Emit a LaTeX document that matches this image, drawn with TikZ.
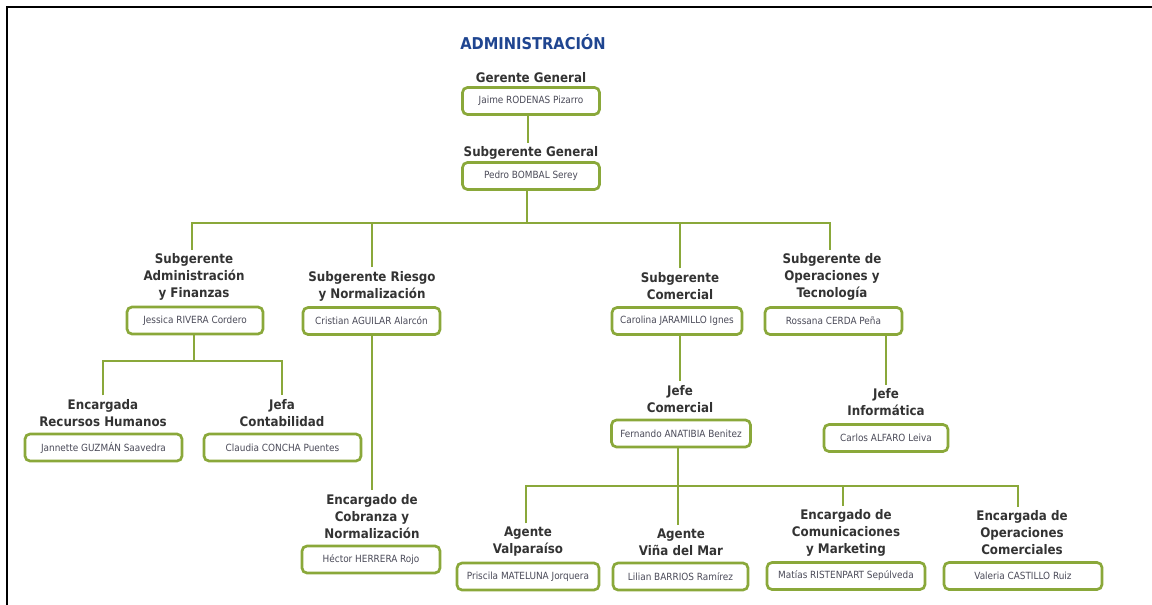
\documentclass[tikz,border=0pt]{standalone}
\usepackage{fontspec}
\setmainfont{DejaVu Sans Condensed}
\definecolor{grn}{HTML}{8AA83A}
\definecolor{hdc}{HTML}{333333}
\definecolor{nmc}{HTML}{4A4A58}
\definecolor{ttl}{HTML}{1F4590}
\begin{document}
\begin{tikzpicture}[x=1pt,y=-1pt,
  hd/.style={font=\fontsize{13.2}{17}\selectfont\bfseries, text=hdc, align=center, inner sep=0pt, outer ysep=4pt},
  nm/.style={draw=grn, line width=2.7pt, rounded corners=5pt, font=\fontsize{9.9}{11}\selectfont, text=nmc, minimum height=27pt, inner sep=0pt},
  conn/.style={draw=grn, line width=1.8pt}]
\useasboundingbox (0,0) rectangle (1152,605);
\draw[line width=2.5pt] (7,605) -- (7,7) -- (1152,7);

\node[font=\fontsize{16.3}{19}\selectfont\bfseries, text=ttl] (title) at (533,42) {ADMINISTRACIÓN};

\node[hd] (ggh) at (531,78) {Gerente General};
\node[nm, minimum width=137pt] (gg) at (531,101) {Jaime RODENAS Pizarro};
\node[hd] (sgh) at (531,153) {Subgerente General};
\node[nm, minimum width=137pt] (sg) at (531,176) {Pedro BOMBAL Serey};

\node[hd] (safh) at (194,277) {Subgerente\\Administración\\y Finanzas};
\node[nm, minimum width=136pt] (saf) at (195,320.5) {Jessica RIVERA Cordero};
\node[hd] (srnh) at (372,286) {Subgerente Riesgo\\y Normalización};
\node[nm, minimum width=137pt] (srn) at (371.5,321) {Cristian AGUILAR Alarcón};
\node[hd] (sch) at (680,286) {Subgerente\\Comercial};
\node[nm, minimum width=130pt] (sc) at (677,321) {Carolina JARAMILLO Ignes};
\node[hd] (soth) at (832,277) {Subgerente de\\Operaciones y\\Tecnología};
\node[nm, minimum width=137pt] (sot) at (833.5,321) {Rossana CERDA Peña};

\node[hd] (erhh) at (103,413) {Encargada\\Recursos Humanos};
\node[nm, minimum width=157pt] (erh) at (103.5,447.5) {Jannette GUZMÁN Saavedra};
\node[hd] (jcoh) at (282,413) {Jefa\\Contabilidad};
\node[nm, minimum width=157pt] (jco) at (282.5,447.5) {Claudia CONCHA Puentes};

\node[hd] (jch) at (680,399) {Jefe\\Comercial};
\node[nm, minimum width=139pt] (jc) at (681,433.5) {Fernando ANATIBIA Benitez};
\node[hd] (jih) at (886,402.5) {Jefe\\Informática};
\node[nm, minimum width=124pt] (ji) at (886,438) {Carlos ALFARO Leiva};

\node[hd] (ecnh) at (372,516.5) {Encargado de\\Cobranza y\\Normalización};
\node[nm, minimum width=138pt] (ecn) at (371,559.5) {Héctor HERRERA Rojo};

\node[hd] (avh) at (528,542) {Agente\\Valparaíso};
\node[nm, minimum width=142pt] (av) at (528,576.5) {Priscila MATELUNA Jorquera};
\node[hd] (avmh) at (681,542) {Agente\\Viña del Mar};
\node[nm, minimum width=135pt] (avm) at (680.5,576.5) {Lilian BARRIOS Ramírez};
\node[hd] (ecmh) at (846,533) {Encargado de\\Comunicaciones\\y Marketing};
\node[nm, minimum width=158pt] (ecm) at (846,576) {Matías RISTENPART Sepúlveda};
\node[hd] (eoch) at (1022,533) {Encargada de\\Operaciones\\Comerciales};
\node[nm, minimum width=158pt] (eoc) at (1023,576) {Valeria CASTILLO Ruiz};

\coordinate (b1) at (527,223);
\coordinate (b2) at (192,361);
\coordinate (b3) at (678,486);
\coordinate (tgg) at (528,114);
\coordinate (tsg) at (527,190);

\draw[conn] (tgg |- gg.south) -- (tgg |- sgh.north);
\draw[conn] (tsg |- sg.south) -- (tsg |- b1);
\draw[conn] ([xshift=-2pt]safh.north) -- ([xshift=-2pt]safh.north |- b1) -- ([xshift=-2pt]soth.north |- b1) -- ([xshift=-2pt]soth.north);
\draw[conn] (srnh.north) -- (srnh.north |- b1);
\draw[conn] (sch.north) -- (sch.north |- b1);

\draw[conn] (safh.north |- saf.south) -- (safh.north |- b2);
\draw[conn] (erhh.north) -- (erhh.north |- b2) -- (jcoh.north |- b2) -- (jcoh.north);

\draw[conn] (srnh.north |- srn.south) -- (srnh.north |- ecnh.north);

\draw[conn] (sch.north |- sc.south) -- (sch.north |- jch.north);
\draw[conn] (jih.north |- sot.south) -- (jih.north);

\draw[conn] ([xshift=-3pt]jc.south) -- ([xshift=-3pt]avmh.north);
\draw[conn] ([xshift=-2pt]avh.north) -- ([xshift=-2pt]avh.north |- b3) -- ([xshift=-4pt]eoch.north |- b3) -- ([xshift=-4pt]eoch.north);
\draw[conn] ([xshift=-3pt]ecmh.north) -- ([xshift=-3pt]ecmh.north |- b3);
\end{tikzpicture}
\end{document}
